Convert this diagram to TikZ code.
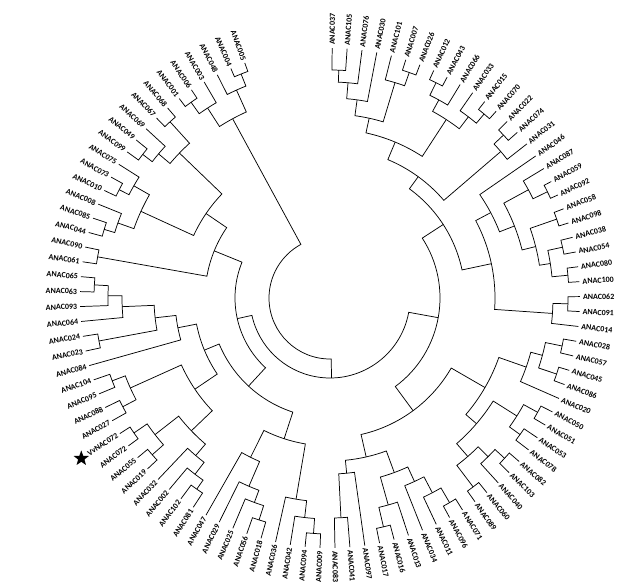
\documentclass[tikz,border=0pt]{standalone}
\usepackage{fontspec}
\setmainfont{Carlito}
\usetikzlibrary{shapes.geometric}

\newcommand\astart{89.5}
\newcommand\astep{3.43}
\newcommand\rtip{250}
\newcommand\clade[4]{%
  \pgfmathsetmacro\ja{\csname ang#2\endcsname}%
  \pgfmathsetmacro\jb{\csname ang#3\endcsname}%
  \pgfmathsetmacro\jm{(\ja+\jb)/2}%
  \edef\ra{\csname rad#2\endcsname}%
  \edef\rb{\csname rad#3\endcsname}%
  \expandafter\xdef\csname ang#1\endcsname{\jm}%
  \expandafter\xdef\csname rad#1\endcsname{#4}%
  \draw[branch] (\ja:\ra) -- (\ja:#4) arc[start angle=\ja, end angle=\jb, radius=#4] -- (\jb:\rb);
  \coordinate (#1) at (\jm:#4);}

\begin{document}
\begin{tikzpicture}[x=0.75pt, y=0.75pt,
    branch/.style={line width=0.55pt, line join=miter},
    leaf/.style={font=\bfseries\fontsize{6}{6}\selectfont, inner sep=0.6pt},
    vstar/.style={star, star points=5, star point ratio=2.4, fill=black, minimum size=12pt, inner sep=0pt}]
\useasboundingbox (-330,-288) rectangle (309,298);

\foreach \t [count=\i] in {ANAC037,ANAC105,ANAC076,ANAC030,ANAC101,ANAC007,ANAC026,ANAC012,ANAC043,ANAC066,
    ANAC033,ANAC015,ANAC070,ANAC022,ANAC074,ANAC031,ANAC046,ANAC087,ANAC059,ANAC092,
    ANAC058,ANAC098,ANAC038,ANAC054,ANAC080,ANAC100,ANAC062,ANAC091,ANAC014,ANAC028,
    ANAC057,ANAC045,ANAC086,ANAC020,ANAC050,ANAC051,ANAC053,ANAC078,ANAC082,ANAC103,
    ANAC040,ANAC060,ANAC089,ANAC071,ANAC096,ANAC011,ANAC034,ANAC013,ANAC016,ANAC017,
    ANAC097,ANAC041,ANAC083,ANAC009,ANAC094,ANAC042,ANAC036,ANAC018,ANAC056,ANAC025,
    ANAC029,ANAC047,ANAC081,ANAC102,ANAC002,ANAC032,ANAC019,ANAC055,ANAC072,VvNAC072,
    ANAC027,ANAC088,ANAC095,ANAC104,ANAC084,ANAC023,ANAC024,ANAC064,ANAC093,ANAC063,
    ANAC065,ANAC061,ANAC090,ANAC044,ANAC085,ANAC008,ANAC010,ANAC073,ANAC075,ANAC099,
    ANAC049,ANAC069,ANAC067,ANAC068,ANAC001,ANAC006,ANAC003,ANAC048,ANAC004,ANAC005}{
  \pgfmathsetmacro\th{\astart-(\i-1)*\astep}
  \expandafter\xdef\csname ang\t\endcsname{\th}
  \expandafter\xdef\csname rad\t\endcsname{\rtip}
  \ifdim\th pt>-90pt
    \node[leaf, anchor=west, rotate=\th] (\t) at (\th:252) {\t};
  \else
    \node[leaf, anchor=east, rotate=\th+180] (\t) at (\th:252) {\t};
  \fi
}
\pgfmathsetmacro\sa{\csname angVvNAC072\endcsname}
\node[vstar] (vvstar) at (\sa:296) {};

\clade{a1}{ANAC037}{ANAC105}{228}
\clade{a2}{a1}{ANAC076}{216}
\clade{a3}{a2}{ANAC030}{200}
\clade{a4}{ANAC007}{ANAC026}{239}
\clade{a5}{ANAC101}{a4}{225}
\clade{a6}{a3}{a5}{184}
\clade{a7}{ANAC012}{ANAC043}{240}
\clade{a8}{a7}{ANAC066}{226}
\clade{a9}{ANAC015}{ANAC070}{240}
\clade{a10}{ANAC033}{a9}{228}
\clade{a11}{a8}{a10}{213}
\clade{a12}{a6}{a11}{169}
\clade{a13}{ANAC022}{ANAC074}{238}
\clade{a14}{a13}{ANAC031}{225}
\clade{a15}{a12}{a14}{150}
\clade{b1}{ANAC059}{ANAC092}{242}
\clade{b2}{ANAC087}{b1}{226}
\clade{b3}{ANAC058}{ANAC098}{240}
\clade{b4}{ANAC038}{ANAC054}{238}
\clade{b5}{ANAC080}{ANAC100}{239}
\clade{b6}{b4}{b5}{223}
\clade{b7}{b3}{b6}{212}
\clade{b8}{b2}{b7}{198}
\clade{b9}{ANAC046}{b8}{182}
\clade{c1}{ANAC062}{ANAC091}{238}
\clade{c2}{c1}{ANAC014}{223}
\clade{c3}{b9}{c2}{165}
\clade{d1}{ANAC028}{ANAC057}{237}
\clade{d2}{ANAC045}{ANAC086}{239}
\clade{d3}{d1}{d2}{220}
\clade{d4}{d3}{ANAC020}{208}
\clade{e1}{ANAC050}{ANAC051}{237}
\clade{e2}{ANAC053}{ANAC078}{234}
\clade{e3}{e1}{e2}{221}
\clade{e4}{ANAC082}{ANAC103}{237}
\clade{e5}{e4}{ANAC040}{224}
\clade{e6}{ANAC060}{ANAC089}{237}
\clade{e7}{e5}{e6}{210}
\clade{e8}{e3}{e7}{193}
\clade{e9}{d4}{e8}{179}
\clade{f1}{ANAC071}{ANAC096}{237}
\clade{f2}{ANAC011}{f1}{220}
\clade{f3}{ANAC034}{f2}{202}
\clade{f4}{ANAC016}{ANAC017}{235}
\clade{f5}{ANAC013}{f4}{215}
\clade{f6}{f3}{f5}{186}
\clade{f7}{ANAC041}{ANAC083}{220}
\clade{f8}{ANAC097}{f7}{176}
\clade{f9}{f6}{f8}{163}
\clade{g1}{ANAC009}{ANAC094}{236}
\clade{g2}{g1}{ANAC042}{221}
\clade{g3}{g2}{ANAC036}{204}
\clade{h1}{ANAC018}{ANAC056}{233}
\clade{h2}{h1}{ANAC025}{218}
\clade{h3}{h2}{ANAC029}{205}
\clade{h4}{h3}{ANAC047}{178}
\clade{h5}{g3}{h4}{148}
\clade{i1}{ANAC081}{ANAC102}{233}
\clade{i2}{i1}{ANAC002}{222}
\clade{i3}{i2}{ANAC032}{207}
\clade{i4}{ANAC019}{ANAC055}{237}
\clade{i5}{ANAC072}{VvNAC072}{238}
\clade{i6}{i4}{i5}{222}
\clade{i7}{i3}{i6}{192}
\clade{j1}{ANAC027}{ANAC088}{234}
\clade{j2}{ANAC095}{ANAC104}{233}
\clade{j3}{j1}{j2}{219}
\clade{j4}{i7}{j3}{163}
\clade{j5}{ANAC023}{ANAC024}{235}
\clade{j6}{ANAC063}{ANAC065}{236}
\clade{j7}{ANAC093}{j6}{222}
\clade{j8}{ANAC064}{j7}{208}
\clade{j9}{j5}{j8}{176}
\clade{j10}{ANAC084}{j9}{155}
\clade{j11}{j4}{j10}{136}
\clade{k1}{ANAC061}{ANAC090}{236}
\clade{l1}{ANAC044}{ANAC085}{236}
\clade{l2}{l1}{ANAC008}{225}
\clade{l3}{ANAC010}{ANAC073}{237}
\clade{l4}{l3}{ANAC075}{226}
\clade{l5}{l2}{l4}{208}
\clade{m1}{ANAC049}{ANAC099}{236}
\clade{m2}{ANAC069}{m1}{224}
\clade{m3}{ANAC067}{ANAC068}{238}
\clade{m4}{m2}{m3}{209}
\clade{m5}{ANAC001}{ANAC006}{240}
\clade{m6}{m5}{ANAC003}{226}
\clade{m7}{ANAC004}{ANAC005}{241}
\clade{m8}{ANAC048}{m7}{228}
\clade{m9}{m6}{m8}{204}
\clade{r1}{a15}{c3}{135}
\clade{r2}{e9}{f9}{140}
\clade{r3}{r1}{r2}{110}
\clade{r4}{h5}{j11}{120}
\clade{r5}{l5}{m4}{150}
\clade{r6}{k1}{r5}{125}
\clade{r7}{r4}{r6}{95}
\clade{r8}{r3}{r7}{80}
\clade{r9}{r8}{m9}{61}
\end{tikzpicture}
\end{document}
